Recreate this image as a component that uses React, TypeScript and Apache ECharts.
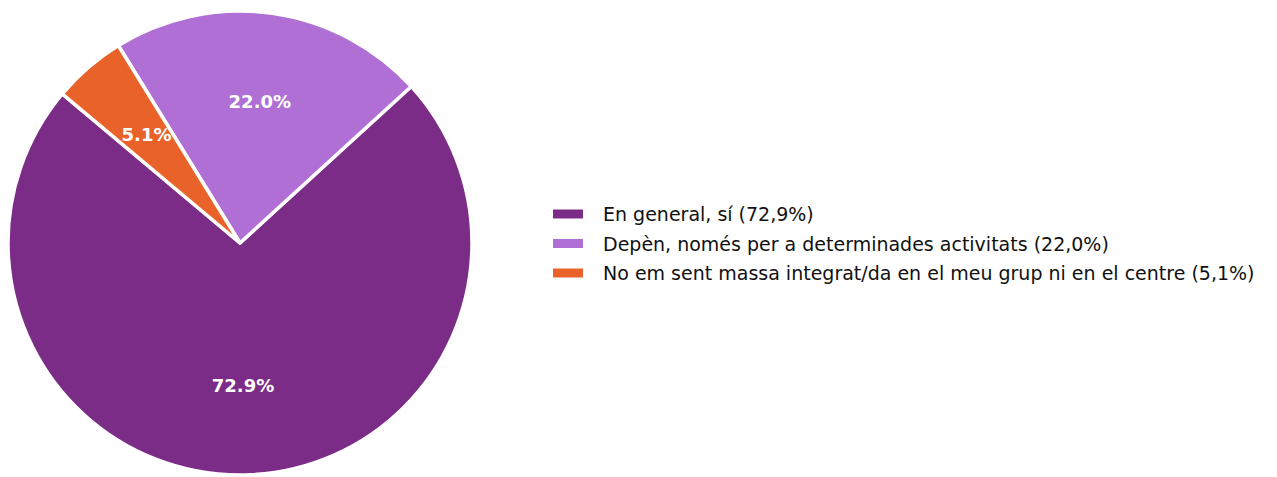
import React, { useEffect, useRef } from "react";
import * as echarts from "echarts";

const categories = [
  "En general, sí",
  "Depèn, només per a determinades activitats",
  "No em sent massa integrat/da en el meu grup ni en el centre",
];
const values = [72.9, 22.0, 5.1];
const colors = ["#7B2C87", "#B06FD4", "#E8622A"];

export default function App() {
  const ref = useRef<HTMLDivElement>(null);
  useEffect(() => {
    const chart = echarts.init(ref.current!, undefined, { renderer: "svg" });
    const data = categories.map((name, i) => ({
      name,
      value: values[i],
      itemStyle: { color: colors[i] },
    }));
    const center = [240, 243];
    chart.setOption({
      animation: false,
      textStyle: { fontFamily: "DejaVu Sans" },
      legend: {
        orient: "vertical",
        left: 551,
        top: 204,
        padding: 0,
        itemWidth: 32,
        itemHeight: 11,
        itemGap: 9.5,
        icon: "rect",
        data: categories,
        formatter: (name: string) => {
          const i = categories.indexOf(name);
          return `${name} (${values[i].toFixed(1).replace(".", ",")}%)`;
        },
        textStyle: {
          fontFamily: "DejaVu Sans",
          fontSize: 19,
          color: "#111",
          lineHeight: 20,
          padding: [0, 0, 0, 14],
        },
      },
      series: [
        {
          type: "pie",
          center,
          radius: [0, 232],
          startAngle: 140,
          clockwise: false,
          data,
          label: { show: false },
          labelLine: { show: false },
          itemStyle: { borderColor: "#ffffff", borderWidth: 3.5 },
          emphasis: { disabled: true },
          silent: true,
        },
        {
          type: "pie",
          center,
          radius: [0, 280],
          startAngle: 140,
          clockwise: false,
          data: categories.map((name, i) => ({
            name,
            value: values[i],
            itemStyle: { color: "rgba(0,0,0,0)" },
          })),
          label: {
            show: true,
            position: "inside",
            formatter: (p: any) => `${values[p.dataIndex].toFixed(1)}%`,
            color: "#ffffff",
            fontWeight: "bold",
            fontSize: 18,
            fontFamily: "DejaVu Sans",
          },
          labelLine: { show: false },
          emphasis: { disabled: true },
          silent: true,
          z: 3,
        },
      ],
    });
    return () => chart.dispose();
  }, []);
  return (
    <div
      ref={ref}
      style={{ position: "fixed", left: 0, top: 0, width: 1277, height: 477, background: "#fff" }}
    />
  );
}
